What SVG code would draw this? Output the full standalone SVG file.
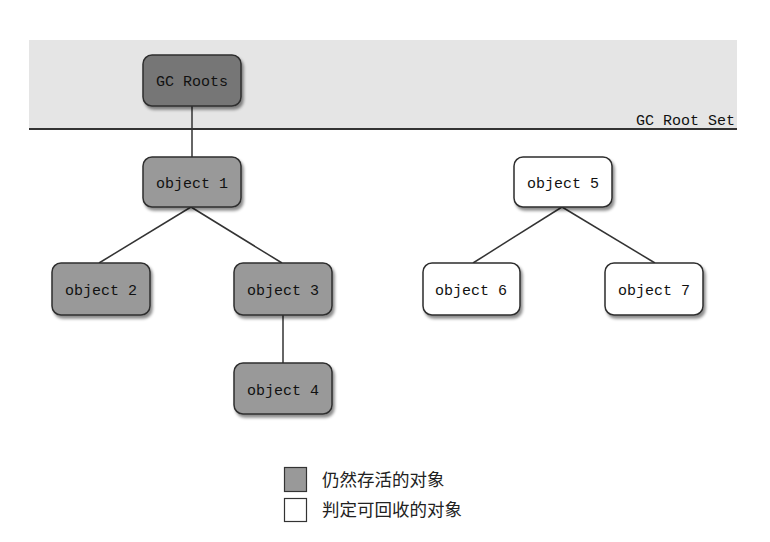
<svg xmlns="http://www.w3.org/2000/svg" width="770" height="542" viewBox="0 0 770 542">
<defs>
<filter id="sh" x="-20%" y="-20%" width="140%" height="150%">
<feDropShadow dx="2" dy="3" stdDeviation="1.8" flood-color="#000" flood-opacity="0.45"/>
</filter>
<style>
.node rect{stroke:#2e2e2e;stroke-width:1.5;filter:url(#sh)}
.live rect{fill:#999999}
.root rect{fill:#767676}
.dead rect{fill:#ffffff}
.lbl{font-family:"Liberation Mono","DejaVu Sans Mono",monospace;font-size:15px;fill:#111;text-anchor:middle}
.edges line{stroke:#333;stroke-width:1.5}
.leg{font-family:"Noto Sans CJK SC","Noto Sans",sans-serif;font-size:17.5px;fill:#222}
</style>
</defs>
<rect width="770" height="542" fill="#ffffff"/>
<g id="root-set">
<rect x="29" y="40" width="708" height="89" fill="#e5e5e5"/>
<line x1="29" y1="129" x2="737" y2="129" stroke="#333" stroke-width="2"/>
<text x="735" y="125" font-family="'Liberation Mono','DejaVu Sans Mono',monospace" font-size="15" fill="#111" text-anchor="end">GC Root Set</text>
</g>
<g class="edges" id="connectors">
<line x1="192" y1="106" x2="192" y2="157"/>
<line x1="191" y1="207" x2="99" y2="263"/>
<line x1="191" y1="207" x2="282" y2="263"/>
<line x1="283" y1="315" x2="283" y2="363"/>
<line x1="562" y1="207" x2="473" y2="263"/>
<line x1="562" y1="207" x2="655" y2="263"/>
</g>
<g id="gc-roots" class="node root"><rect x="143" y="55" width="98" height="51" rx="9"/><text class="lbl" x="192" y="86">GC Roots</text></g>
<g id="object1" class="node live"><rect x="143" y="157" width="98" height="50" rx="9"/><text class="lbl" x="192" y="188">object 1</text></g>
<g id="object2" class="node live"><rect x="52" y="263" width="98" height="52" rx="9"/><text class="lbl" x="101" y="295">object 2</text></g>
<g id="object3" class="node live"><rect x="234" y="263" width="98" height="52" rx="9"/><text class="lbl" x="283" y="295">object 3</text></g>
<g id="object4" class="node live"><rect x="234" y="363" width="98" height="51" rx="9"/><text class="lbl" x="283" y="395">object 4</text></g>
<g id="object5" class="node dead"><rect x="514" y="157" width="98" height="50" rx="9"/><text class="lbl" x="563" y="188">object 5</text></g>
<g id="object6" class="node dead"><rect x="423" y="263" width="97" height="52" rx="9"/><text class="lbl" x="471" y="295">object 6</text></g>
<g id="object7" class="node dead"><rect x="605" y="263" width="98" height="52" rx="9"/><text class="lbl" x="654" y="295">object 7</text></g>
<g id="legend">
<rect x="284.5" y="467.5" width="22" height="24" fill="#999999" stroke="#333" stroke-width="1.2"/>
<text class="leg" x="322" y="486">仍然存活的对象</text>
<rect x="284.5" y="498.5" width="22" height="23" fill="#ffffff" stroke="#333" stroke-width="1.2"/>
<text class="leg" x="322" y="516">判定可回收的对象</text>
</g>
</svg>
